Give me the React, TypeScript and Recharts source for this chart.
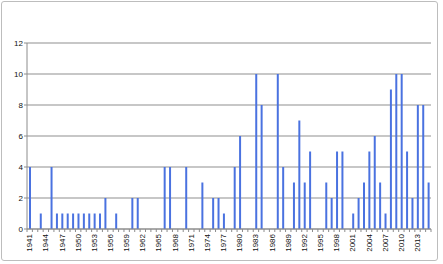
import { BarChart, Bar, XAxis, YAxis, CartesianGrid } from "recharts";

const years = [
  "1941", "1942", "1943", "1944", "1945", "1946", "1947", "1948", "1949", "1950",
  "1951", "1952", "1953", "1954", "1955", "1956", "1957", "1958", "1959", "1960",
  "1961", "1962", "1963", "1964", "1965", "1966", "1967", "1968", "1969", "1970",
  "1971", "1972", "1973", "1974", "1975", "1976", "1977", "1978", "1979", "1980",
  "1981", "1982", "1983", "1984", "1985", "1986", "1987", "1988", "1989", "1990",
  "1991", "1992", "1993", "1994", "1995", "1996", "1997", "1998", "1999", "2000",
  "2001", "2002", "2003", "2004", "2005", "2006", "2007", "2008", "2009", "2010",
  "2011", "2012", "2013", "2014", "2015",
];

const counts = [
  4, 0, 1, 0, 4, 1, 1, 1, 1, 1,
  1, 1, 1, 1, 2, 0, 1, 0, 0, 2,
  2, 0, 0, 0, 0, 4, 4, 0, 0, 4,
  0, 0, 3, 0, 2, 2, 1, 0, 4, 6,
  0, 0, 10, 8, 0, 0, 10, 4, 0, 3,
  7, 3, 5, 0, 0, 3, 2, 5, 5, 0,
  1, 2, 3, 5, 6, 3, 1, 9, 10, 10,
  5, 2, 8, 8, 3,
];

const yTicks = [0, 2, 4, 6, 8, 10, 12];

const data = years.map((year, i) => ({ year, count: counts[i] }));

// layout
const W = 443;
const H = 264;
const AXIS_W = 27;
const X_AXIS_H = 30;
const margin = { top: 43, right: 12, bottom: 5, left: 0 };
const plotBottom = H - margin.bottom - X_AXIS_H;
const band = (W - margin.right - AXIS_W) / years.length;
const font = "'Liberation Sans', Arial, sans-serif";
const axisColor = "#8c8c8c";
const textColor = "#111";

// excel style: tick marks between categories, label every 3rd year
function YearTick(props: any) {
  const { x, payload, index } = props;
  const left = x - band / 2;
  return (
    <g>
      <line x1={left} y1={plotBottom} x2={left} y2={plotBottom + 3} stroke={axisColor} />
      {index === years.length - 1 && (
        <line x1={left + band} y1={plotBottom} x2={left + band} y2={plotBottom + 3} stroke={axisColor} />
      )}
      {index % 3 === 0 && (
        <text
          x={x}
          y={plotBottom + 5}
          transform={`rotate(-90, ${x}, ${plotBottom + 5})`}
          textAnchor="end"
          dominantBaseline="central"
          fontSize={8}
          fontFamily={font}
          fill={textColor}
        >
          {payload.value}
        </text>
      )}
    </g>
  );
}

export default function App() {
  return (
    <div style={{ position: "absolute", left: 0, top: 0, width: W, height: H, background: "#fff" }}>
      <div
        style={{
          position: "absolute",
          left: 1,
          top: 1,
          width: 437,
          height: 260,
          boxSizing: "border-box",
          border: "1px solid #bdbdbd",
          borderRadius: 3,
        }}
      />
      <div style={{ position: "absolute", left: 0, top: 0 }}>
        <BarChart width={W} height={H} data={data} margin={margin} barCategoryGap={0}>
          <CartesianGrid vertical={false} stroke="#8f8f8f" />
          <XAxis
            dataKey="year"
            interval={0}
            height={X_AXIS_H}
            tickLine={false}
            axisLine={{ stroke: axisColor }}
            tick={(p: any) => <YearTick {...p} />}
          />
          <YAxis
            width={AXIS_W}
            domain={[0, 12]}
            ticks={yTicks}
            interval={0}
            tickSize={3}
            tickMargin={1}
            tickLine={{ stroke: axisColor }}
            axisLine={{ stroke: axisColor }}
            tick={{ fontSize: 8, fontFamily: font, fill: textColor }}
          />
          <Bar dataKey="count" fill="#4a72e0" barSize={2} isAnimationActive={false} />
        </BarChart>
      </div>
    </div>
  );
}
